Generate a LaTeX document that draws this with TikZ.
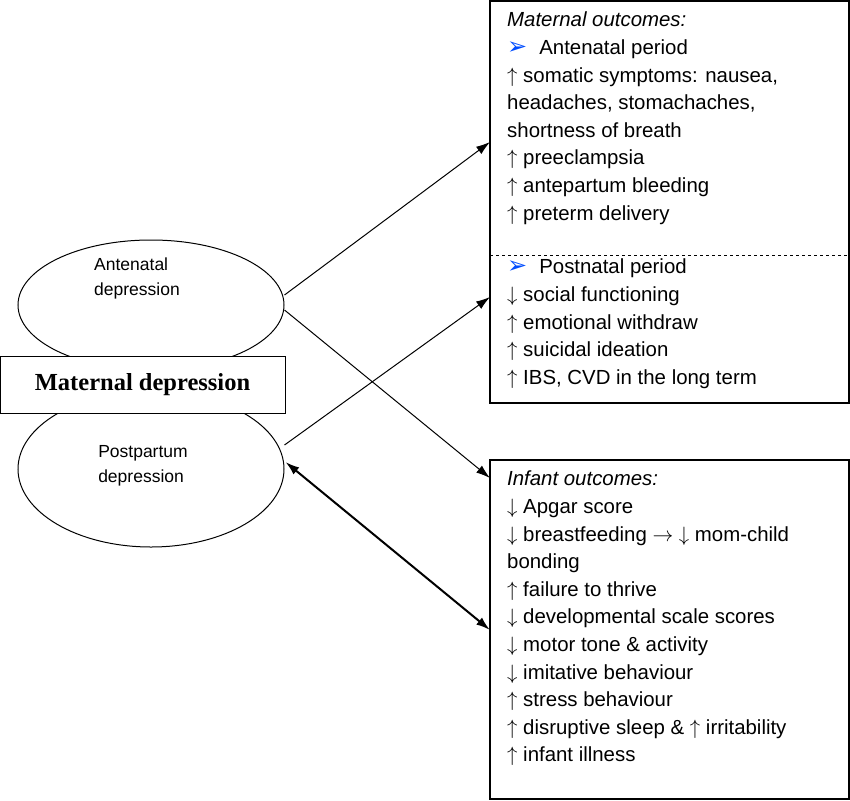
\documentclass[tikz,border=0pt]{standalone}
\usepackage{fontspec}
\setmainfont{Liberation Sans}
\newfontfamily\timesfont{Liberation Serif}
\newfontfamily\symfont{DejaVu Sans}
\usetikzlibrary{arrows.meta,shapes.geometric}
\tikzset{
  cause/.style={ellipse,draw,line width=1pt,minimum width=266pt,minimum height=130pt,inner sep=0pt},
  outbox/.style={draw,line width=1.2pt},
  outtext/.style={anchor=north west,align=left,inner sep=0pt,font=\fontsize{20.4}{27.6}\selectfont},
  link/.style={line width=1pt,-{Latex[length=14pt,width=9pt]}},
}
\newcommand{\bul}{{\color{blue!70!cyan}\symfont\fontsize{24}{24}\selectfont\char"27A2}\hspace{12pt}}
\begin{document}
\begin{tikzpicture}[x=1pt,y=-1pt]
  \useasboundingbox (0,0) rectangle (850,800);

  % causes
  \node[cause] (ante) at (151,305) {};
  \node[cause,minimum height=156pt] (post) at (151,469) {};
  \node[draw,fill=white,line width=1pt,minimum width=285pt,minimum height=57pt,inner sep=0pt,
        font=\timesfont\bfseries\fontsize{24.5}{28}\selectfont] (md) at (142.5,384.5) {Maternal depression};
  \node[align=left,font=\fontsize{17.5}{25}\selectfont] (antelab) at (137,278) {Antenatal\\depression};
  \node[align=left,font=\fontsize{17.5}{25}\selectfont] (postlab) at (143,466) {Postpartum\\depression};

  % outcome boxes
  \draw[outbox] (490,1) rectangle (849,403);
  \draw[dashed,line width=0.8pt] (490,255) -- (849,255);
  \draw[outbox] (490,460) rectangle (849,799);

  \node[outtext] (mat) at (507,12) {\textit{Maternal outcomes:}\\
    \bul Antenatal period\\
    $\uparrow$ somatic symptoms: nausea,\\
    headaches, stomachaches,\\
    shortness of breath\\
    $\uparrow$ preeclampsia\\
    $\uparrow$ antepartum bleeding\\
    $\uparrow$ preterm delivery};
  \node[outtext] (pn) at (507,259) {\bul Postnatal period\\
    $\downarrow$ social functioning\\
    $\uparrow$ emotional withdraw\\
    $\uparrow$ suicidal ideation\\
    $\uparrow$ IBS, CVD in the long term};
  \node[outtext] (inf) at (507,471) {\textit{Infant outcomes:}\\
    $\downarrow$ Apgar score\\
    $\downarrow$ breastfeeding $\rightarrow$ $\downarrow$ mom-child\\
    bonding\\
    $\uparrow$ failure to thrive\\
    $\downarrow$ developmental scale scores\\
    $\downarrow$ motor tone \& activity\\
    $\downarrow$ imitative behaviour\\
    $\uparrow$ stress behaviour\\
    $\uparrow$ disruptive sleep \& $\uparrow$ irritability\\
    $\uparrow$ infant illness};

  % connectors
  \coordinate (m1) at (490,142);
  \coordinate (m2) at (490,297);
  \coordinate (i1) at (490,478);
  \coordinate (i2) at (490,630);
  \draw[link] (ante.east) ++(0,-10) -- (m1);
  \draw[link] (ante.east) ++(0,5) -- (i1);
  \draw[link] (post.east) ++(0,-24) -- (m2);
  \draw[link,line width=2pt,{Latex[length=14pt,width=9pt]}-{Latex[length=14pt,width=9pt]}] (post.east) ++(1,-7) -- (i2);
\end{tikzpicture}
\end{document}
